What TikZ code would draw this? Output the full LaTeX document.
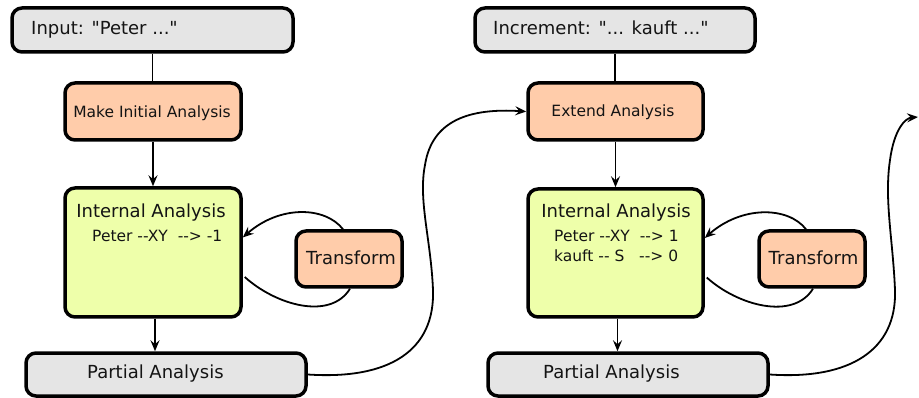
\documentclass[tikz,border=0pt]{standalone}
\usepackage{fontspec}
\setmainfont{DejaVu Sans}[Ligatures=TeXOff]
\usetikzlibrary{arrows.meta,calc}
\definecolor{boxgray}{HTML}{E5E5E5}
\definecolor{boxorange}{HTML}{FFCCAA}
\definecolor{boxgreen}{HTML}{EEFFAA}
\begin{document}
\begin{tikzpicture}[x=1pt,y=-1pt,
  box/.style={draw=black, line width=3.5pt, rounded corners=10pt, inner sep=0pt},
  graybox/.style={box, fill=boxgray},
  orangebox/.style={box, fill=boxorange},
  greenbox/.style={box, fill=boxgreen},
  bigtxt/.style={font=\fontsize{18}{22}\selectfont, inner sep=0pt, text=black!92},
  smalltxt/.style={font=\fontsize{15.5}{19.5}\selectfont, inner sep=0pt, text=black!92},
  conn/.style={line width=1.8pt},
  arr/.style={conn, -{Stealth[length=11pt,width=9pt,inset=4pt]}},
]
\useasboundingbox (0,0) rectangle (919,398);

% ---------- left column ----------
\node[graybox, minimum width=281pt, minimum height=44pt] (in1) at (152.5,30) {};
\node[bigtxt, anchor=base west] (in1t) at (31,35) {Input: "Peter ..."};

\node[orangebox, minimum width=176pt, minimum height=57pt] (make1) at (153,111.5) {};
\node[smalltxt, anchor=base] (make1t) at (152,117.5) {Make Initial Analysis};

\node[greenbox, minimum width=176pt, minimum height=129pt] (int1) at (153,252.5) {};
\node[bigtxt, anchor=base] (int1t) at (151,218) {Internal Analysis};
\node[smalltxt, anchor=base west] (int1b) at (92,242) {Peter -{}-XY\ \ -{}-> -1};

\node[orangebox, minimum width=106pt, minimum height=56pt] (tr1) at (349,259) {};
\node[bigtxt, anchor=base] (tr1t) at (351,265) {Transform};

\node[graybox, minimum width=280pt, minimum height=43pt] (pa1) at (166,374.5) {};
\node[bigtxt, anchor=base west] (pa1t) at (87,378) {Partial Analysis};

% ---------- right column ----------
\node[graybox, minimum width=280pt, minimum height=44pt] (in2) at (615,30) {};
\node[bigtxt, anchor=base west] (in2t) at (493,35) {Increment: "... kauft ..."};

\node[orangebox, minimum width=175pt, minimum height=57pt] (ext2) at (615.5,111.5) {};
\node[smalltxt, anchor=base] (ext2t) at (613,117) {Extend Analysis};

\node[greenbox, minimum width=175pt, minimum height=128pt] (int2) at (615.5,253) {};
\node[bigtxt, anchor=base] (int2t) at (616,218) {Internal Analysis};
\node[smalltxt, anchor=base west] (int2b) at (554,242) {Peter -{}-XY\ \ -{}-> 1};
\node[smalltxt, anchor=base west] (int2c) at (554,261.5) {kauft -{}- S\ \ \ -{}-> 0};

\node[orangebox, minimum width=106pt, minimum height=56pt] (tr2) at (812,259) {};
\node[bigtxt, anchor=base] (tr2t) at (813.5,265) {Transform};

\node[graybox, minimum width=280pt, minimum height=43pt] (pa2) at (628,374.5) {};
\node[bigtxt, anchor=base west] (pa2t) at (543,378) {Partial Analysis};

% ---------- vertical connectors ----------
\draw[conn] (in1.south) -- (in1.south |- make1.north);
\draw[arr] (make1.south) -- (int1.north);
\coordinate (a1) at ($(int1.south)+(2,0)$);
\draw[arr] (a1) -- (a1 |- pa1.north);

\draw[conn] (in2.south) -- (in2.south |- ext2.north);
\draw[arr] (ext2.south) -- (int2.north);
\coordinate (a2) at ($(int2.south)+(2,0)$);
\draw[arr] (a2) -- (a2 |- pa2.north);

% ---------- transform loops ----------
\draw[arr] ($(tr1.north)+(-6,0)$) .. controls +(-18,-23) and +(37,-32.5) .. ($(int1.east)+(0,-15)$);
\draw[conn] ($(int1.east)+(2,24.5)$) .. controls +(31,28) and +(-20,32) .. ($(tr1.south)+(1,0)$);

\draw[arr] ($(tr2.north)+(-6,0)$) .. controls +(-18,-23) and +(37,-32.5) .. ($(int2.east)+(0,-15)$);
\draw[conn] ($(int2.east)+(2,24.5)$) .. controls +(31,28) and +(-20,32) .. ($(tr2.south)+(1,0)$);

% ---------- long connectors ----------
\coordinate (m1) at (433,290);
\coordinate (m2) at (425,165);
\draw[arr] (pa1.east) .. controls (390,380) and (435,350) .. (m1)
  .. controls (431,240) and (418,200) .. (m2)
  .. controls (432,120) and (470,108) .. (ext2.west);

\coordinate (r1) at (895,290);
\coordinate (r2) at (890,160);
\coordinate (rend) at (918,117);
\draw[arr] (pa2.east) .. controls (850,380) and (897,350) .. (r1)
  .. controls (893,240) and (884,200) .. (r2)
  .. controls (894,130) and (905,118) .. (rend);
\end{tikzpicture}
\end{document}
